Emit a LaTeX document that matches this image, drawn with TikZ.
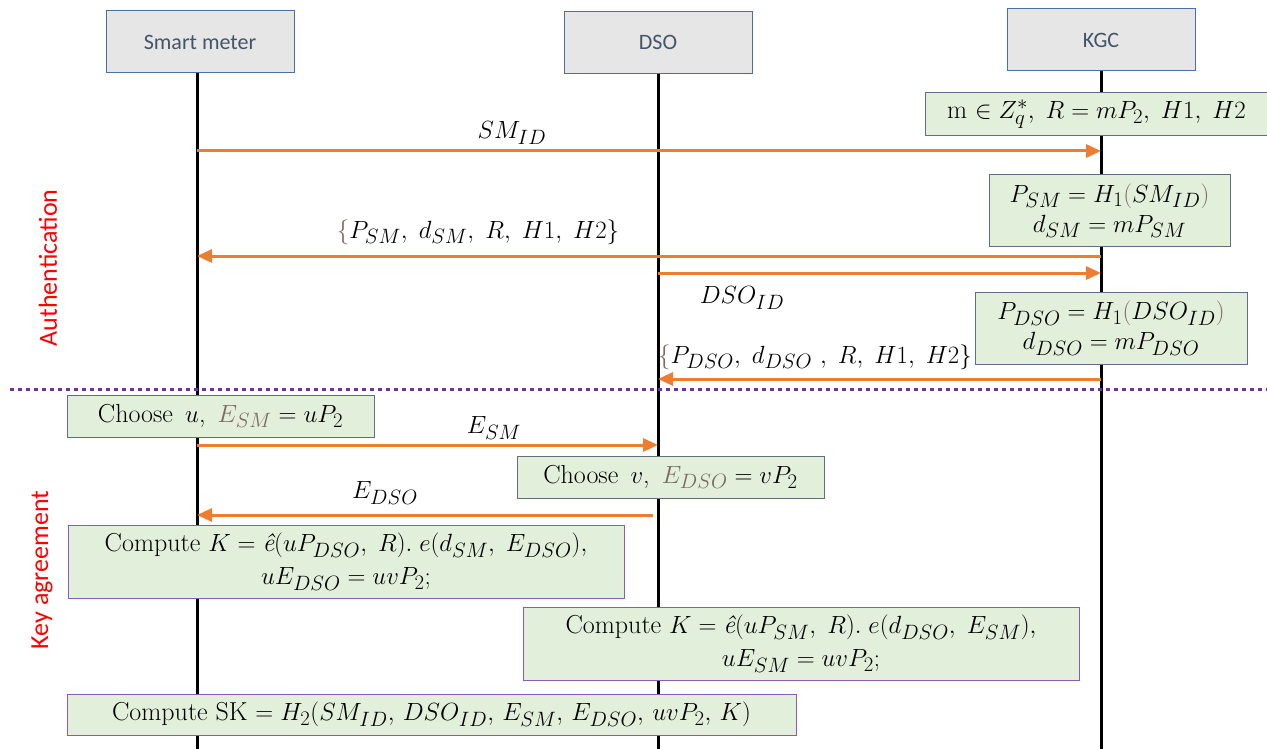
\documentclass[tikz,border=0pt]{standalone}
\usepackage{fontspec}
\usepackage{amssymb}
\usetikzlibrary{arrows.meta}
\newfontfamily\carlito{Carlito}
\DeclareMathSizes{26}{26}{19.5}{15}
\definecolor{hdrgray}{HTML}{E6E6E6}
\definecolor{hdrblue}{HTML}{4A6FA5}
\definecolor{hdrtext}{HTML}{44546A}
\definecolor{boxgreen}{HTML}{E2EFDA}
\definecolor{boxgray}{HTML}{5F6F7E}
\definecolor{boxpurple}{HTML}{8A5CB8}
\definecolor{msgorange}{HTML}{ED7D31}
\definecolor{sepviolet}{HTML}{7030A0}
\definecolor{brn}{HTML}{7F6A5F}
\newcommand{\actorfont}{\carlito\fontsize{22}{26}\selectfont}
\newcommand{\phasefont}{\carlito\fontsize{26}{30}\selectfont}
\newcommand{\boxfont}{\fontsize{26}{30}\selectfont}
\newcommand{\br}[1]{{\color{brn}#1}}
% comma followed by a wider gap, for argument lists
\newcommand{\cm}{,\;}
\newcommand{\ct}{,\,}
% pairing symbol as one italic glyph
\newcommand{\ehat}{\mbox{\itshape ê}}
\begin{document}
\begin{tikzpicture}[x=1pt,y=-1pt,
  actor/.style={draw=hdrblue, fill=hdrgray, line width=1pt, minimum width=188pt,
    minimum height=62pt, inner sep=0pt, font=\actorfont, text=hdrtext},
  calcbox/.style={draw=boxgray, fill=boxgreen, line width=1pt, inner sep=0pt,
    align=center, font=\boxfont},
  keybox/.style={calcbox, draw=boxpurple},
  msg/.style={draw=msgorange, line width=3pt, -{Triangle[length=15pt,width=13pt]}},
  life/.style={line width=3pt, black},
  msglabel/.style={font=\boxfont, inner sep=0pt},
  phase/.style={text=red, font=\phasefont, rotate=90, inner sep=0pt}]
\useasboundingbox (0,0) rectangle (1267,749);

% participants
\node[actor] (sm)  at (200,42)   {Smart meter};
\node[actor] (dso) at (658,42.5) {DSO};
\node[actor] (kgc) at (1101,40)  {KGC};

% lifelines
\coordinate (smEnd)  at (197,749);
\coordinate (dsoEnd) at (658,749);
\coordinate (kgcEnd) at (1101,749);
\draw[life] (sm.south -| smEnd) -- (smEnd);
\draw[life] (dso.south -| dsoEnd) -- (dsoEnd);
\draw[life] (kgc.south -| kgcEnd) -- (kgcEnd);

% message end points on the lifelines
\coordinate (smA) at (197,151);  \coordinate (kgcA) at (1101,151);
\coordinate (kgcB) at (1101,256); \coordinate (smB) at (197,256);
\coordinate (dsoC) at (658,273); \coordinate (kgcC) at (1101,273);
\coordinate (kgcD) at (1101,379); \coordinate (dsoD) at (658,379);
\coordinate (smE) at (197,445);  \coordinate (dsoE) at (658,445);
\coordinate (dsoF) at (653,515); \coordinate (smF) at (197,515);

% phase separator
\coordinate (sepL) at (10,389); \coordinate (sepR) at (1267,389);
\draw[sepviolet, line width=3pt, dash pattern=on 4pt off 4pt] (sepL) -- (sepR);
\node[phase] (auth) at (48,268) {Authentication};
\node[phase] (keyag) at (42,570) {Key agreement};

% KGC set-up
\node[calcbox, minimum width=343pt, minimum height=43pt] (setup) at (1096.5,114.5)
  {m $\in Z_q^{*}\cm R = mP_2\cm H1\cm H2$};

% authentication messages
\draw[msg] (smA) -- (kgcA);
\node[msglabel] (l1) at (512,133) {$SM_{ID}$};

\node[calcbox, minimum width=241pt, minimum height=71pt] (psm) at (1109.5,210.5)
  {$P_{SM} = H_1\br{(}SM_{ID}\br{)}$\\ $d_{SM} = mP_{SM}$};

\draw[msg] (kgcB) -- (smB);
\node[msglabel] (l2) at (478,232) {$\br{\{}P_{SM}\cm d_{SM}\cm R\cm H1\cm H2\}$};

\draw[msg] (dsoC) -- (kgcC);
\node[msglabel] (l3) at (742,298) {$DSO_{ID}$};

\node[calcbox, minimum width=272pt, minimum height=72pt] (pdso) at (1111,328)
  {$P_{DSO} = H_1\br{(}DSO_{ID}\br{)}$\\ $d_{DSO} = mP_{DSO}$};

\draw[msg] (kgcD) -- (dsoD);
\node[msglabel] (l4) at (815,357) {$\br{\{}P_{DSO}\cm d_{DSO}\ \cm R\cm H1\cm H2\}$};

% key agreement
\node[calcbox, minimum width=307pt, minimum height=42pt] (chu) at (220.5,416)
  {Choose\, $u$,\, $\br{E_{SM}} = uP_2$};

\draw[msg] (smE) -- (dsoE);
\node[msglabel] (l5) at (494,428) {$E_{SM}$};

\node[calcbox, minimum width=307pt, minimum height=42pt] (chv) at (670.5,477)
  {Choose\, $v$,\, $\br{E_{DSO}} = vP_2$};

\draw[msg] (dsoF) -- (smF);
\node[msglabel] (l6) at (385,493) {$E_{DSO}$};

\node[keybox, minimum width=556pt, minimum height=73pt] (ksm) at (346,561.5)
  {Compute $K = \ehat(uP_{DSO}\cm R).\; e(d_{SM}\cm E_{DSO}),$\\[3pt] $uE_{DSO} = uvP_2;$};

\node[keybox, minimum width=556pt, minimum height=73pt] (kdso) at (801,643.5)
  {Compute $K = \ehat(uP_{SM}\cm R).\; e(d_{DSO}\cm E_{SM}),$\\[3pt] $uE_{SM} = uvP_2;$};

\node[keybox, minimum width=729pt, minimum height=41pt] (sk) at (431.5,714.5)
  {Compute SK $= H_2(SM_{ID}\ct DSO_{ID}\ct E_{SM}\ct E_{DSO}\ct uvP_2\ct K)$};
\end{tikzpicture}
\end{document}
